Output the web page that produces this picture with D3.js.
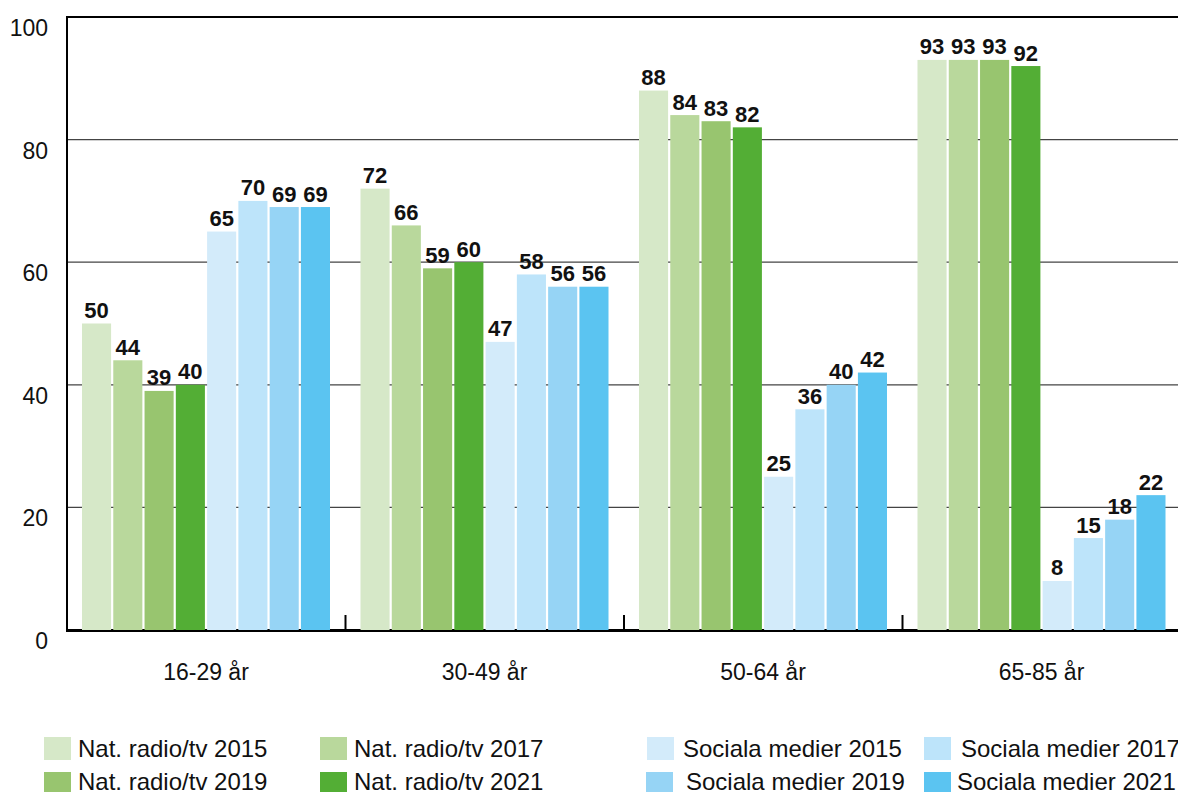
<!DOCTYPE html>
<html>
<head>
<meta charset="utf-8">
<script src="https://cdn.jsdelivr.net/npm/d3@7"></script>
<style>
  body { margin: 0; background: #fff; }
  svg { display: block; font-family: "Liberation Sans", Arial, Helvetica, sans-serif; }
</style>
</head>
<body>
<div id="container"></div>
<script>
const groups = ["16-29 år", "30-49 år", "50-64 år", "65-85 år"];
const series = [
  "Nat. radio/tv 2015", "Nat. radio/tv 2017", "Nat. radio/tv 2019", "Nat. radio/tv 2021",
  "Sociala medier 2015", "Sociala medier 2017", "Sociala medier 2019", "Sociala medier 2021"
];
const colors = ["#d6e8c8", "#b9d89c", "#98c56f", "#53ae35", "#d3ebfa", "#bde4fa", "#96d4f5", "#5bc4f1"];

// one array per age group, in series order
const values1629 = [50, 44, 39, 40, 65, 70, 69, 69];
const values3049 = [72, 66, 59, 60, 47, 58, 56, 56];
const values5064 = [88, 84, 83, 82, 25, 36, 40, 42];
const values6585 = [93, 93, 93, 92, 8, 15, 18, 22];
const yTicks = [0, 20, 40, 60, 80, 100];

const valuesByGroup = [values1629, values3049, values5064, values6585];

const width = 1178,
  height = 792,
  margin = { top: 17, bottom: 162, left: 67, right: 0 };

const data = groups.flatMap((g, gi) =>
  series.map((s, si) => ({ group: g, series: s, index: si, value: valuesByGroup[gi][si] })));

const svg = d3.select("#container")
  .append("svg")
  .attr("width", width)
  .attr("height", height);

const xGroup = d3.scaleBand()
  .domain(groups)
  .range([margin.left, margin.left + 4 * 278.5]);

const xBar = d3.scaleBand()
  .domain(d3.range(series.length))
  .range([15, 263])
  .paddingInner(0.07);

const yScale = d3.scaleLinear()
  .domain([0, 100])
  .range([height - margin.bottom, margin.top]);

// gridlines
svg.append("g")
  .selectAll("line")
  .data(yTicks.filter(t => t > 0))
  .join("line")
  .attr("x1", margin.left)
  .attr("x2", width)
  .attr("y1", d => yScale(d))
  .attr("y2", d => yScale(d))
  .attr("stroke", d => d === 100 ? "#000" : "#444")
  .attr("stroke-width", d => d === 100 ? 2 : 1.2);

// y tick labels
svg.append("g")
  .selectAll("text")
  .data(yTicks)
  .join("text")
  .attr("x", 48)
  .attr("y", d => yScale(d) + 19)
  .attr("text-anchor", "end")
  .style("font-size", "23px")
  .style("fill", "#111")
  .text(d => d);

// bottom axis line
svg.append("line")
  .attr("x1", margin.left)
  .attr("x2", width)
  .attr("y1", yScale(0) + 0.5)
  .attr("y2", yScale(0) + 0.5)
  .attr("stroke", "#000")
  .attr("stroke-width", 3);

// bars
svg.append("g")
  .selectAll("rect")
  .data(data)
  .join("rect")
  .attr("x", d => xGroup(d.group) + xBar(d.index))
  .attr("width", xBar.bandwidth())
  .attr("y", d => yScale(d.value))
  .attr("height", d => yScale(0) - yScale(d.value))
  .attr("fill", d => colors[d.index]);

// value labels
svg.append("g")
  .selectAll("text")
  .data(data)
  .join("text")
  .attr("x", d => xGroup(d.group) + xBar(d.index) + xBar.bandwidth() / 2)
  .attr("y", d => yScale(d.value) - 5.5)
  .attr("text-anchor", "middle")
  .style("font-size", "22px")
  .style("font-weight", "bold")
  .style("fill", "#111")
  .text(d => d.value);

// left axis
svg.append("line")
  .attr("x1", margin.left)
  .attr("x2", margin.left)
  .attr("y1", margin.top - 1)
  .attr("y2", yScale(0) + 2)
  .attr("stroke", "#000")
  .attr("stroke-width", 2);

// group separator ticks
svg.append("g")
  .selectAll("line")
  .data(groups.slice(1))
  .join("line")
  .attr("x1", d => xGroup(d))
  .attr("x2", d => xGroup(d))
  .attr("y1", yScale(0) - 15)
  .attr("y2", yScale(0) + 1)
  .attr("stroke", "#000")
  .attr("stroke-width", 2);

// group labels
svg.append("g")
  .selectAll("text")
  .data(groups)
  .join("text")
  .attr("x", d => xGroup(d) + 139)
  .attr("y", 680)
  .attr("text-anchor", "middle")
  .style("font-size", "23px")
  .style("fill", "#111")
  .text(d => d);

// legend: square x, text x, row
const legendPos = [
  [44, 78, 0], [320, 354, 0], [44, 78, 1], [320, 354, 1],
  [647, 683, 0], [924, 961, 0], [646, 686, 1], [924, 957, 1]
];

const legend = svg.append("g")
  .selectAll("g")
  .data(series)
  .join("g");

legend.append("rect")
  .attr("x", (d, i) => legendPos[i][0])
  .attr("y", (d, i) => 737 + legendPos[i][2] * 35)
  .attr("width", 27)
  .attr("height", 23)
  .attr("fill", (d, i) => colors[i]);

legend.append("text")
  .attr("x", (d, i) => legendPos[i][1])
  .attr("y", (d, i) => 757 + legendPos[i][2] * 33)
  .style("font-size", "24px")
  .style("fill", "#111")
  .text(d => d);
</script>
</body>
</html>
